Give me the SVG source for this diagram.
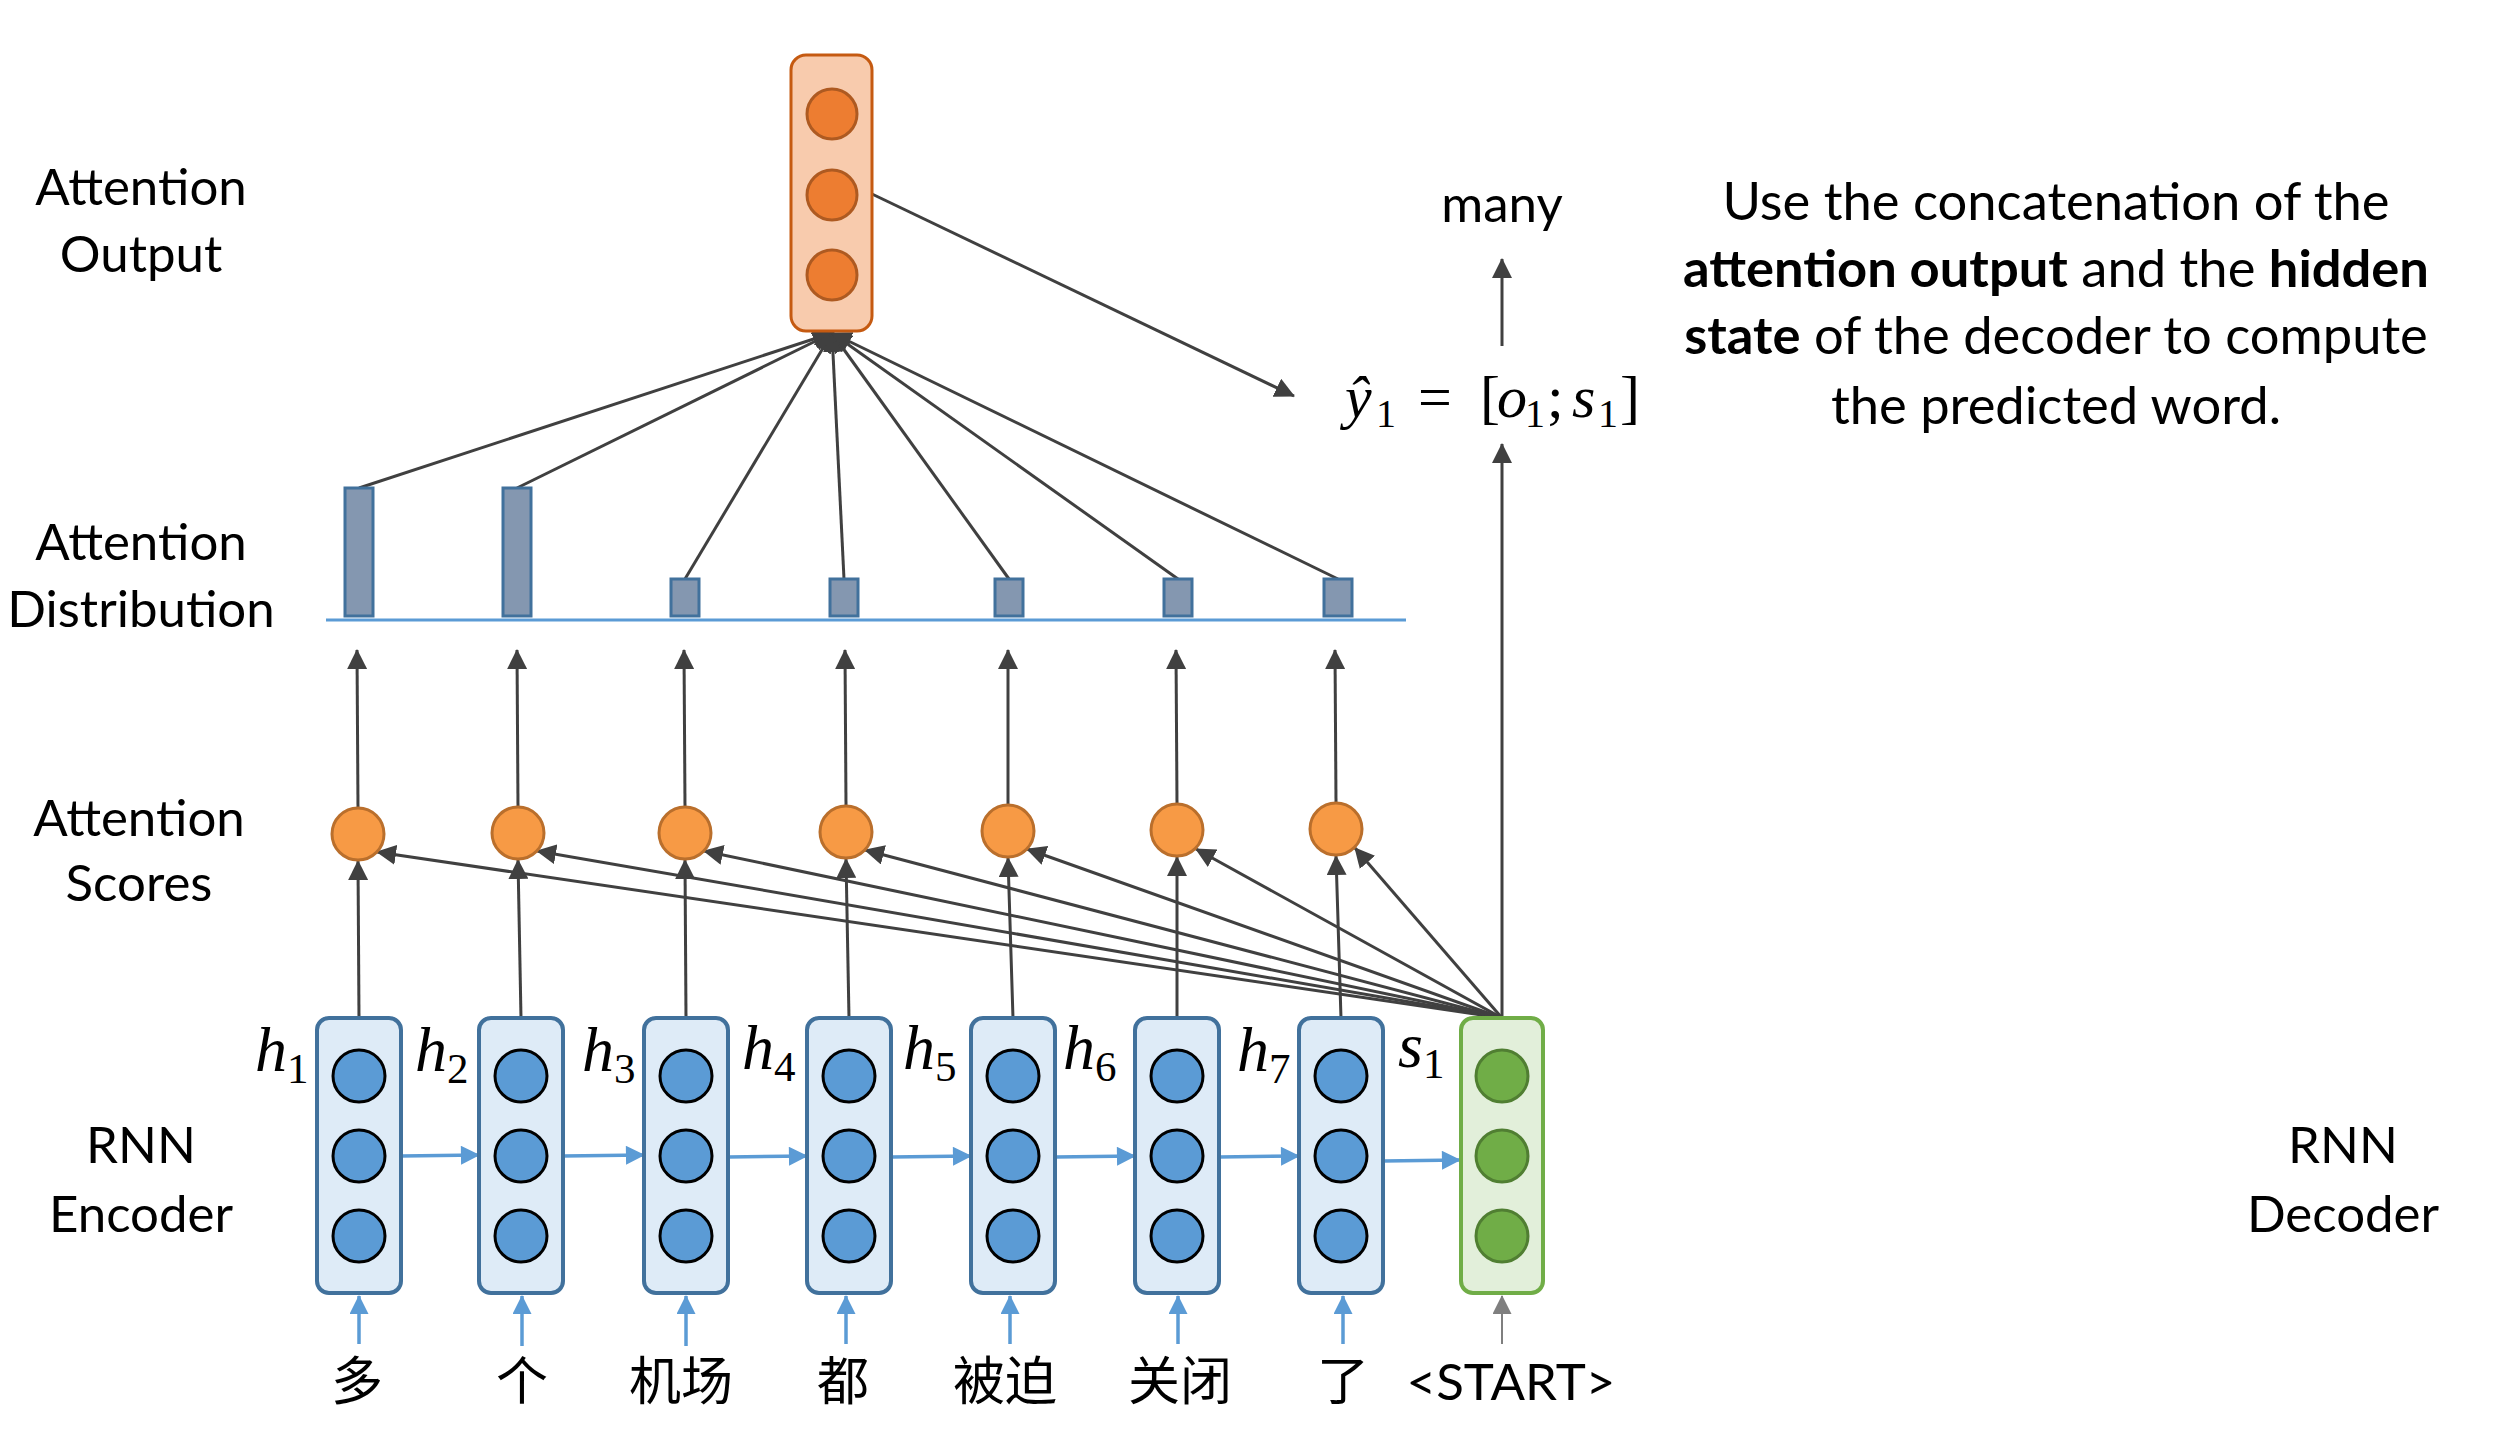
<svg xmlns="http://www.w3.org/2000/svg" width="2500" height="1450" viewBox="0 0 2500 1450">
<style>
.lbl{font-family:Lato,"Open Sans",sans-serif;font-size:51px;fill:#000;text-anchor:middle}
.txt{font-family:Lato,"Open Sans",sans-serif;font-size:52.5px;fill:#000;text-anchor:middle}
.cjk{font-family:"Noto Sans CJK SC",sans-serif;font-size:52px;fill:#000;text-anchor:middle}
.math{font-family:"Liberation Serif",serif;fill:#000}
.it{font-style:italic}
.enc{fill:#DEEBF7;stroke:#41719C;stroke-width:4}
.encc{fill:#5B9BD5;stroke:#000;stroke-width:3}
.dec{fill:#E2EFDA;stroke:#70AD47;stroke-width:4}
.decc{fill:#70AD47;stroke:#507E32;stroke-width:3}
.out{fill:#F8CBAD;stroke:#C55A11;stroke-width:3}
.outc{fill:#ED7D31;stroke:#AE5A21;stroke-width:3}
.score{fill:#F79A45;stroke:#BA6F2C;stroke-width:3}
.bar{fill:#8497B0;stroke:#41719C;stroke-width:3}
.dk{stroke:#404040;stroke-width:3;fill:none;marker-end:url(#ah)}
.bl{stroke:#5B9BD5;stroke-width:3.5;fill:none;marker-end:url(#ahb)}
.gr{stroke:#7F7F7F;stroke-width:2;fill:none;marker-end:url(#ahg)}
</style>
<defs>
<marker id="ah" viewBox="0 0 20 20" refX="19" refY="10" markerWidth="20" markerHeight="20" markerUnits="userSpaceOnUse" orient="auto"><path d="M0,0 L20,10 L0,20 z" fill="#404040"/></marker>
<marker id="ahb" viewBox="0 0 20 20" refX="19" refY="10" markerWidth="20" markerHeight="19" markerUnits="userSpaceOnUse" orient="auto"><path d="M0,0 L20,10 L0,20 z" fill="#5B9BD5"/></marker>
<marker id="ahg" viewBox="0 0 20 20" refX="19" refY="10" markerWidth="20" markerHeight="19" markerUnits="userSpaceOnUse" orient="auto"><path d="M0,0 L20,10 L0,20 z" fill="#7F7F7F"/></marker>
</defs>
<rect width="2500" height="1450" fill="#fff"/>

<!-- left labels -->
<g id="label-attn-output"><text class="lbl" x="141" y="205">Attention</text><text class="lbl" x="141" y="272">Output</text></g>
<g id="label-attn-dist"><text class="lbl" x="141" y="560">Attention</text><text class="lbl" x="141" y="627">Distribution</text></g>
<g id="label-attn-scores"><text class="lbl" x="139" y="836">Attention</text><text class="lbl" x="139" y="901">Scores</text></g>
<g id="label-rnn-encoder"><text class="lbl" x="141" y="1163">RNN</text><text class="lbl" x="141" y="1232">Encoder</text></g>
<g id="label-rnn-decoder"><text class="lbl" x="2343" y="1163">RNN</text><text class="lbl" x="2343" y="1232">Decoder</text></g>

<!-- connectors -->
<g id="connectors">
<!-- bars to attention output -->
<line class="dk" x1="359" y1="488" x2="832" y2="333"/>
<line class="dk" x1="517" y1="488" x2="832" y2="333"/>
<line class="dk" x1="685" y1="579" x2="832" y2="333"/>
<line class="dk" x1="844" y1="579" x2="832" y2="333"/>
<line class="dk" x1="1009" y1="579" x2="832" y2="333"/>
<line class="dk" x1="1178" y1="579" x2="832" y2="333"/>
<line class="dk" x1="1338" y1="579" x2="832" y2="333"/>
<!-- attention output to prediction -->
<line class="dk" x1="872" y1="194" x2="1294" y2="396"/>
<line class="dk" x1="1502" y1="346" x2="1502" y2="259"/>
<line class="dk" x1="1502" y1="1018" x2="1502" y2="444"/>
<!-- scores to distribution -->
<line class="dk" x1="358" y1="808" x2="357" y2="650"/>
<line class="dk" x1="518" y1="807" x2="517" y2="650"/>
<line class="dk" x1="685" y1="807" x2="684" y2="650"/>
<line class="dk" x1="846" y1="806" x2="845" y2="650"/>
<line class="dk" x1="1008" y1="805" x2="1008" y2="650"/>
<line class="dk" x1="1177" y1="804" x2="1176" y2="650"/>
<line class="dk" x1="1336" y1="803" x2="1335" y2="650"/>
<!-- encoder to scores -->
<line class="dk" x1="359" y1="1018" x2="358" y2="861"/>
<line class="dk" x1="521" y1="1018" x2="518" y2="860"/>
<line class="dk" x1="686" y1="1018" x2="685" y2="860"/>
<line class="dk" x1="849" y1="1018" x2="846" y2="859"/>
<line class="dk" x1="1013" y1="1018" x2="1008" y2="858"/>
<line class="dk" x1="1177" y1="1018" x2="1177" y2="857"/>
<line class="dk" x1="1341" y1="1018" x2="1336" y2="856"/>
<!-- decoder to scores -->
<line class="dk" x1="1502" y1="1018" x2="377" y2="852"/>
<line class="dk" x1="1502" y1="1018" x2="537" y2="851"/>
<line class="dk" x1="1502" y1="1018" x2="704" y2="851"/>
<line class="dk" x1="1502" y1="1018" x2="865" y2="850"/>
<line class="dk" x1="1502" y1="1018" x2="1027" y2="849"/>
<line class="dk" x1="1502" y1="1018" x2="1196" y2="849"/>
<line class="dk" x1="1502" y1="1018" x2="1355" y2="848"/>
<!-- recurrent arrows -->
<line class="bl" x1="401" y1="1156" x2="479" y2="1155"/>
<line class="bl" x1="563" y1="1156" x2="644" y2="1155"/>
<line class="bl" x1="728" y1="1157" x2="807" y2="1156"/>
<line class="bl" x1="891" y1="1157" x2="971" y2="1156"/>
<line class="bl" x1="1055" y1="1157" x2="1135" y2="1156"/>
<line class="bl" x1="1219" y1="1157" x2="1299" y2="1156"/>
<line class="bl" x1="1383" y1="1161" x2="1460" y2="1160"/>
<!-- inputs -->
<line class="bl" x1="359" y1="1344" x2="359" y2="1296"/>
<line class="bl" x1="522" y1="1346" x2="522" y2="1296"/>
<line class="bl" x1="686" y1="1346" x2="686" y2="1296"/>
<line class="bl" x1="846" y1="1344" x2="846" y2="1296"/>
<line class="bl" x1="1010" y1="1344" x2="1010" y2="1296"/>
<line class="bl" x1="1178" y1="1344" x2="1178" y2="1296"/>
<line class="bl" x1="1343" y1="1344" x2="1343" y2="1296"/>
<line class="gr" x1="1502" y1="1344" x2="1502" y2="1296"/>
<!-- distribution baseline -->
<line x1="326" y1="620" x2="1406" y2="620" stroke="#5B9BD5" stroke-width="3"/>
</g>

<!-- attention output node -->
<g id="attention-output">
<rect class="out" x="791" y="55" width="81" height="276" rx="15"/>
<circle class="outc" cx="832" cy="114" r="25"/>
<circle class="outc" cx="832" cy="195" r="25"/>
<circle class="outc" cx="832" cy="275" r="25"/>
</g>

<!-- attention distribution bars -->
<g id="bar-1"><rect class="bar" x="345" y="488" width="28" height="128"/></g>
<g id="bar-2"><rect class="bar" x="503" y="488" width="28" height="128"/></g>
<g id="bar-3"><rect class="bar" x="671" y="579" width="28" height="37"/></g>
<g id="bar-4"><rect class="bar" x="830" y="579" width="28" height="37"/></g>
<g id="bar-5"><rect class="bar" x="995" y="579" width="28" height="37"/></g>
<g id="bar-6"><rect class="bar" x="1164" y="579" width="28" height="37"/></g>
<g id="bar-7"><rect class="bar" x="1324" y="579" width="28" height="37"/></g>

<!-- attention scores -->
<g id="score-1"><circle class="score" cx="358" cy="834" r="26"/></g>
<g id="score-2"><circle class="score" cx="518" cy="833" r="26"/></g>
<g id="score-3"><circle class="score" cx="685" cy="833" r="26"/></g>
<g id="score-4"><circle class="score" cx="846" cy="832" r="26"/></g>
<g id="score-5"><circle class="score" cx="1008" cy="831" r="26"/></g>
<g id="score-6"><circle class="score" cx="1177" cy="830" r="26"/></g>
<g id="score-7"><circle class="score" cx="1336" cy="829" r="26"/></g>

<!-- encoder cells -->
<g id="enc-1"><rect class="enc" x="317" y="1018" width="84" height="275" rx="12"/><circle class="encc" cx="359" cy="1076" r="26"/><circle class="encc" cx="359" cy="1156" r="26"/><circle class="encc" cx="359" cy="1236" r="26"/>
<text class="math" x="255" y="1071" font-size="64"><tspan class="it">h</tspan><tspan font-size="43" dy="12">1</tspan></text></g>
<g id="enc-2"><rect class="enc" x="479" y="1018" width="84" height="275" rx="12"/><circle class="encc" cx="521" cy="1076" r="26"/><circle class="encc" cx="521" cy="1156" r="26"/><circle class="encc" cx="521" cy="1236" r="26"/>
<text class="math" x="415" y="1071" font-size="64"><tspan class="it">h</tspan><tspan font-size="43" dy="12">2</tspan></text></g>
<g id="enc-3"><rect class="enc" x="644" y="1018" width="84" height="275" rx="12"/><circle class="encc" cx="686" cy="1076" r="26"/><circle class="encc" cx="686" cy="1156" r="26"/><circle class="encc" cx="686" cy="1236" r="26"/>
<text class="math" x="582" y="1071" font-size="64"><tspan class="it">h</tspan><tspan font-size="43" dy="12">3</tspan></text></g>
<g id="enc-4"><rect class="enc" x="807" y="1018" width="84" height="275" rx="12"/><circle class="encc" cx="849" cy="1076" r="26"/><circle class="encc" cx="849" cy="1156" r="26"/><circle class="encc" cx="849" cy="1236" r="26"/>
<text class="math" x="742" y="1069" font-size="64"><tspan class="it">h</tspan><tspan font-size="43" dy="12">4</tspan></text></g>
<g id="enc-5"><rect class="enc" x="971" y="1018" width="84" height="275" rx="12"/><circle class="encc" cx="1013" cy="1076" r="26"/><circle class="encc" cx="1013" cy="1156" r="26"/><circle class="encc" cx="1013" cy="1236" r="26"/>
<text class="math" x="903" y="1069" font-size="64"><tspan class="it">h</tspan><tspan font-size="43" dy="12">5</tspan></text></g>
<g id="enc-6"><rect class="enc" x="1135" y="1018" width="84" height="275" rx="12"/><circle class="encc" cx="1177" cy="1076" r="26"/><circle class="encc" cx="1177" cy="1156" r="26"/><circle class="encc" cx="1177" cy="1236" r="26"/>
<text class="math" x="1063" y="1069" font-size="64"><tspan class="it">h</tspan><tspan font-size="43" dy="12">6</tspan></text></g>
<g id="enc-7"><rect class="enc" x="1299" y="1018" width="84" height="275" rx="12"/><circle class="encc" cx="1341" cy="1076" r="26"/><circle class="encc" cx="1341" cy="1156" r="26"/><circle class="encc" cx="1341" cy="1236" r="26"/>
<text class="math" x="1237" y="1071" font-size="64"><tspan class="it">h</tspan><tspan font-size="43" dy="12">7</tspan></text></g>

<!-- decoder cell -->
<g id="dec-1"><rect class="dec" x="1461" y="1018" width="82" height="275" rx="12"/><circle class="decc" cx="1502" cy="1076" r="26"/><circle class="decc" cx="1502" cy="1156" r="26"/><circle class="decc" cx="1502" cy="1236" r="26"/>
<text class="math" x="1398" y="1067" font-size="64"><tspan class="it">s</tspan><tspan font-size="43" dy="11">1</tspan></text></g>

<!-- input words -->
<g id="words">
<text class="cjk" x="357" y="1400">多</text>
<text class="cjk" x="522" y="1400">个</text>
<text class="cjk" x="681" y="1400">机场</text>
<text class="cjk" x="843" y="1400">都</text>
<text class="cjk" x="1005" y="1400">被迫</text>
<text class="cjk" x="1180" y="1400">关闭</text>
<text class="cjk" x="1343" y="1400">了</text>
<text class="lbl" x="1511" y="1400" font-size="48">&lt;START&gt;</text>
</g>

<!-- prediction -->
<g id="output-word"><text class="lbl" x="1502" y="222" font-size="55">many</text></g>
<g id="prediction">
<text class="math" font-size="60" y="417"><tspan class="it" x="1345">ŷ</tspan><tspan x="1376" font-size="40" dy="10">1</tspan><tspan x="1418" dy="-10">=</tspan><tspan x="1480">[</tspan><tspan class="it" x="1497">o</tspan><tspan x="1525" font-size="40" dy="10">1</tspan><tspan x="1547" dy="-10">;</tspan><tspan class="it" x="1572">s</tspan><tspan x="1598" font-size="40" dy="10">1</tspan><tspan x="1620" dy="-10">]</tspan></text>
</g>

<!-- explanation -->
<g id="explanation">
<text class="txt" x="2056" y="220">Use the concatenation of the</text>
<text class="txt" x="2056" y="287"><tspan font-weight="bold">attention output</tspan> and the <tspan font-weight="bold">hidden</tspan></text>
<text class="txt" x="2056" y="354"><tspan font-weight="bold">state</tspan> of the decoder to compute</text>
<text class="txt" x="2056" y="424">the predicted word.</text>
</g>
</svg>
